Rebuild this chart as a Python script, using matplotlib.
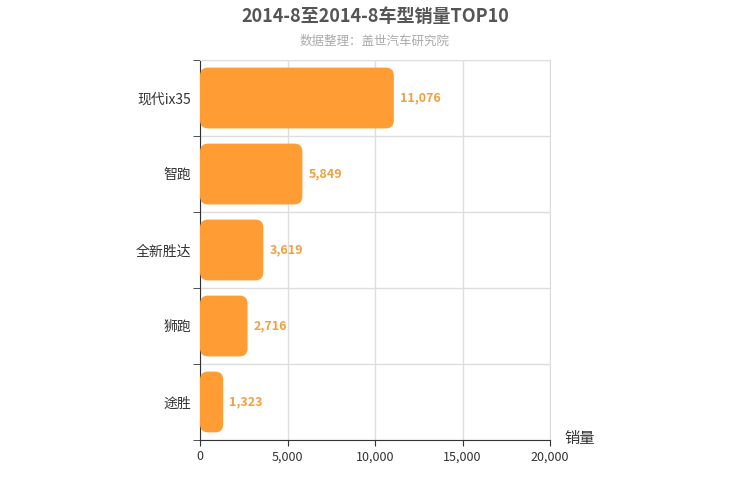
import matplotlib
matplotlib.use("Agg")
import matplotlib.pyplot as plt
from matplotlib.patches import FancyBboxPatch

plt.rcParams["font.family"] = ["Noto Sans CJK SC", "DejaVu Sans"]

categories = ["现代ix35", "智跑", "全新胜达", "狮跑", "途胜"]
values = [11076, 5849, 3619, 2716, 1323]
xticks = [0, 5000, 10000, 15000, 20000]

W, H = 750, 500
fig = plt.figure(figsize=(W/100, H/100), dpi=100)
L, R, T, B = 200, 550, 60, 440
ax = fig.add_axes([L/W, 1-B/H, (R-L)/W, (B-T)/H])
ax.set_xlim(0, 20000)
n = len(categories)
ax.set_ylim(n-0.5, -0.5)

color = "#ff9c33"
bh = 0.8
px_per_x = (R-L)/20000
px_per_y = (B-T)/n
r_px = 8
rx = r_px/px_per_x
aspect = (r_px/px_per_y)/rx
for i, v in enumerate(values):
    p = FancyBboxPatch((0, i-bh/2), v, bh,
                       boxstyle=f"round,pad=0,rounding_size={rx}",
                       mutation_aspect=aspect, fc=color, ec="none", zorder=3)
    ax.add_patch(p)
    ax.text(v + 350, i, f"{v:,}", va="center", ha="left", color="#f0a040",
            fontsize=9, fontweight="bold", zorder=4)

ax.set_yticks(range(n))
ax.set_yticklabels(categories, fontsize=10, color="#333")
ax.tick_params(axis="y", length=0, pad=6)
ax.set_yticks([i+0.5 for i in range(-1, n)], minor=True)
ax.tick_params(axis="y", which="minor", length=5, color="#333", direction="out")
ax.set_xticks(xticks)
ax.set_xticklabels([f"{x:,}" for x in xticks], fontsize=9, color="#333")
ax.tick_params(axis="x", length=4, color="#333")
ax.grid(axis="x", color="#ddd", lw=1, zorder=0)
ax.grid(axis="y", which="minor", color="#ddd", lw=1, zorder=0)
for s in ["top", "right"]:
    ax.spines[s].set_color("#ddd")
ax.spines["left"].set_color("#333")
ax.spines["bottom"].set_color("#333")

fig.text(375/W, 1-16/H, "2014-8至2014-8车型销量TOP10", ha="center", va="center",
         fontsize=13, fontweight="bold", color="#555")
fig.text(375/W, 1-41/H, "数据整理：盖世汽车研究院", ha="center", va="center",
         fontsize=9, color="#aaa")
fig.text(580/W, 1-438/H, "销量", ha="center", va="center", fontsize=11, color="#333")

fig.savefig("out.png", dpi=100)
